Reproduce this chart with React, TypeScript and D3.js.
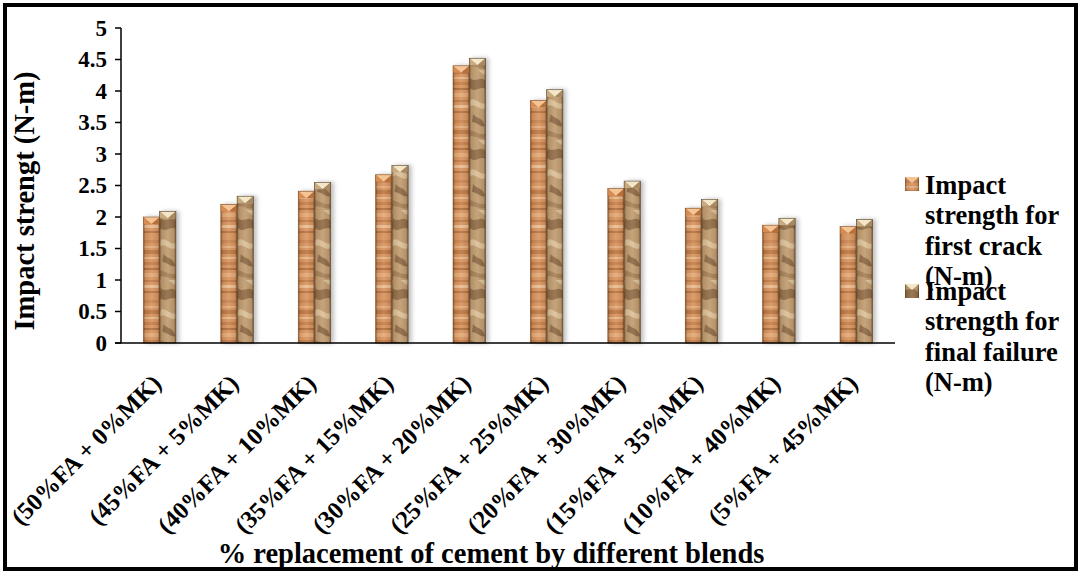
import React from "react";
import * as d3 from "d3";

const categories = [
  "(50%FA + 0%MK)",
  "(45%FA + 5%MK)",
  "(40%FA + 10%MK)",
  "(35%FA + 15%MK)",
  "(30%FA + 20%MK)",
  "(25%FA + 25%MK)",
  "(20%FA + 30%MK)",
  "(15%FA + 35%MK)",
  "(10%FA + 40%MK)",
  "(5%FA + 45%MK)",
];
const firstCrack = [2.0, 2.2, 2.41, 2.67, 4.4, 3.85, 2.45, 2.14, 1.87, 1.85];
const finalFailure = [2.09, 2.33, 2.55, 2.82, 4.52, 4.02, 2.57, 2.28, 1.98, 1.96];
const seriesNames = ["first", "final"];
const legendLines = [
  ["Impact", "strength for", "first crack", "(N-m)"],
  ["Impact", "strength for", "final failure", "(N-m)"],
];
const yTicks = [0, 0.5, 1, 1.5, 2, 2.5, 3, 3.5, 4, 4.5, 5];
const yTitle = "Impact strengt (N-m)";
const xTitle = "% replacement of cement by different blends";

const W = 1081;
const H = 573;
const FONT = "'Liberation Serif', 'Times New Roman', serif";

export default function App() {
  const x0 = d3
    .scaleBand<string>()
    .domain(categories)
    .range([121, 895])
    .paddingInner(0.58)
    .paddingOuter(0.29);
  const x1 = d3.scaleBand<string>().domain(seriesNames).range([0, x0.bandwidth()]);
  const y = d3.scaleLinear().domain([0, 5]).range([343, 28]);

  const data = categories.map((c, i) => ({ c, vals: [firstCrack[i], finalFailure[i]] }));

  const bw = x1.bandwidth();
  const capH = 7;

  const woodStripes = [
    [0, 3, "#c98250"],
    [6, 2, "#e8b183"],
    [10, 4, "#b8733f"],
    [17, 2, "#ecbc8f"],
    [22, 3, "#c47b48"],
    [28, 2, "#a96a3a"],
    [33, 4, "#e6ad7c"],
    [40, 2, "#bd7845"],
    [45, 3, "#f0c49a"],
    [51, 2, "#b06f3e"],
    [56, 3, "#d9955f"],
  ] as [number, number, string][];

  return (
    <svg
      width={W}
      height={H}
      style={{ position: "absolute", left: 0, top: 0, background: "#fff" }}
      fontFamily={FONT}
    >
      <defs>
        <pattern id="wood" patternUnits="userSpaceOnUse" width={40} height={60}>
          <rect width={40} height={60} fill="#d8945f" />
          {woodStripes.map(([yy, hh, col], i) => (
            <rect key={i} x={0} y={yy} width={40} height={hh} fill={col} opacity={0.85} />
          ))}
        </pattern>
        <pattern id="marble" patternUnits="userSpaceOnUse" width={17} height={70}>
          <rect width={17} height={70} fill="#c09c70" />
          <path d="M0,8 C6,14 10,4 17,12 L17,20 C10,14 6,24 0,18 Z" fill="#7e5a38" opacity={0.7} />
          <path d="M0,30 C5,26 12,38 17,32 L17,36 C12,44 5,32 0,36 Z" fill="#e3cba3" opacity={0.8} />
          <path d="M3,44 C8,50 12,46 15,56 C11,58 7,52 2,52 Z" fill="#6a4829" opacity={0.6} />
          <path d="M0,60 C6,62 11,66 17,63 L17,68 C11,70 6,66 0,66 Z" fill="#9b764e" opacity={0.7} />
          <path d="M8,0 C12,3 14,6 17,4 L17,0 Z" fill="#e6d2ae" opacity={0.7} />
        </pattern>
        <linearGradient id="shade" x1="0" x2="1" y1="0" y2="0">
          <stop offset="0" stopColor="#3d220e" stopOpacity={0.55} />
          <stop offset="0.12" stopColor="#3d220e" stopOpacity={0.1} />
          <stop offset="0.5" stopColor="#ffffff" stopOpacity={0.08} />
          <stop offset="0.88" stopColor="#3d220e" stopOpacity={0.1} />
          <stop offset="1" stopColor="#3d220e" stopOpacity={0.6} />
        </linearGradient>
        <filter id="shadow" x="-30%" y="-5%" width="160%" height="110%">
          <feDropShadow dx={3} dy={0} stdDeviation={2} floodColor="#000" floodOpacity={0.25} />
        </filter>
      </defs>

      <rect x={5} y={5} width={1071} height={564} fill="none" stroke="#000" strokeWidth={4} />

      {/* y axis */}
      <line x1={121} x2={121} y1={y(5)} y2={y(0)} stroke="#000" strokeWidth={1.5} />
      {yTicks.map((t) => (
        <g key={t}>
          <line x1={115} x2={121} y1={y(t)} y2={y(t)} stroke="#000" strokeWidth={1.5} />
          <text
            x={107}
            y={y(t)}
            dy="0.34em"
            textAnchor="end"
            fontSize={23}
            fontWeight="bold"
          >
            {t}
          </text>
        </g>
      ))}

      {/* bars */}
      {data.map((d) => (
        <g key={d.c} transform={`translate(${x0(d.c)},0)`} filter="url(#shadow)">
          {d.vals.map((v, j) => {
            const bx = x1(seriesNames[j])!;
            const top = y(v);
            const h = y(0) - top;
            const isWood = j === 0;
            return (
              <g key={j}>
                <rect
                  x={bx}
                  y={top}
                  width={bw}
                  height={h}
                  fill={isWood ? "url(#wood)" : "url(#marble)"}
                />
                <rect x={bx} y={top} width={bw} height={h} fill="url(#shade)" />
                <polygon
                  points={`${bx},${top} ${bx + bw},${top} ${bx + bw / 2},${top + capH}`}
                  fill={isWood ? "#f4c495" : "#f3e6c9"}
                />
                <polygon
                  points={`${bx},${top} ${bx + bw / 2},${top + capH} ${bx},${top + capH}`}
                  fill={isWood ? "#d68b52" : "#c9ab80"}
                />
                <polygon
                  points={`${bx + bw},${top} ${bx + bw / 2},${top + capH} ${bx + bw},${top + capH}`}
                  fill={isWood ? "#b86f3a" : "#a88a62"}
                />
                <rect
                  x={bx}
                  y={top}
                  width={bw}
                  height={h}
                  fill="none"
                  stroke={isWood ? "#8a5228" : "#5e4a34"}
                  strokeWidth={0.6}
                />
              </g>
            );
          })}
        </g>
      ))}

      {/* x axis */}
      <line x1={115} x2={895} y1={y(0)} y2={y(0)} stroke="#000" strokeWidth={1.5} />

      {/* category labels */}
      {categories.map((c) => {
        const cx = x0(c)! + x0.bandwidth() / 2 + 3;
        const cy = 385;
        return (
          <text
            key={c}
            x={cx}
            y={cy}
            transform={`rotate(-45 ${cx} ${cy})`}
            textAnchor="end"
            fontSize={24.5}
            fontWeight="bold"
          >
            {c}
          </text>
        );
      })}

      {/* axis titles */}
      <text
        transform={`translate(34,${201}) rotate(-90)`}
        textAnchor="middle"
        fontSize={28.5}
        fontWeight="bold"
      >
        {yTitle}
      </text>
      <text x={491} y={563} textAnchor="middle" fontSize={28.5} fontWeight="bold">
        {xTitle}
      </text>

      {/* legend */}
      {legendLines.map((lines, i) => {
        const top = i === 0 ? 177 : 284;
        const base = i === 0 ? 194 : 300;
        const isWood = i === 0;
        const s = 14;
        const mx = 905;
        return (
          <g key={i}>
            <rect x={mx} y={top} width={s} height={s} fill={isWood ? "url(#wood)" : "url(#marble)"} />
            <rect x={mx} y={top} width={s} height={s} fill="url(#shade)" />
            <polygon
              points={`${mx},${top} ${mx + s},${top} ${mx + s / 2},${top + 6}`}
              fill={isWood ? "#f4c495" : "#f3e6c9"}
            />
            {lines.map((l, k) => (
              <text key={k} x={925} y={base + k * 30.3} fontSize={26.5} fontWeight="bold">
                {l}
              </text>
            ))}
          </g>
        );
      })}
    </svg>
  );
}
